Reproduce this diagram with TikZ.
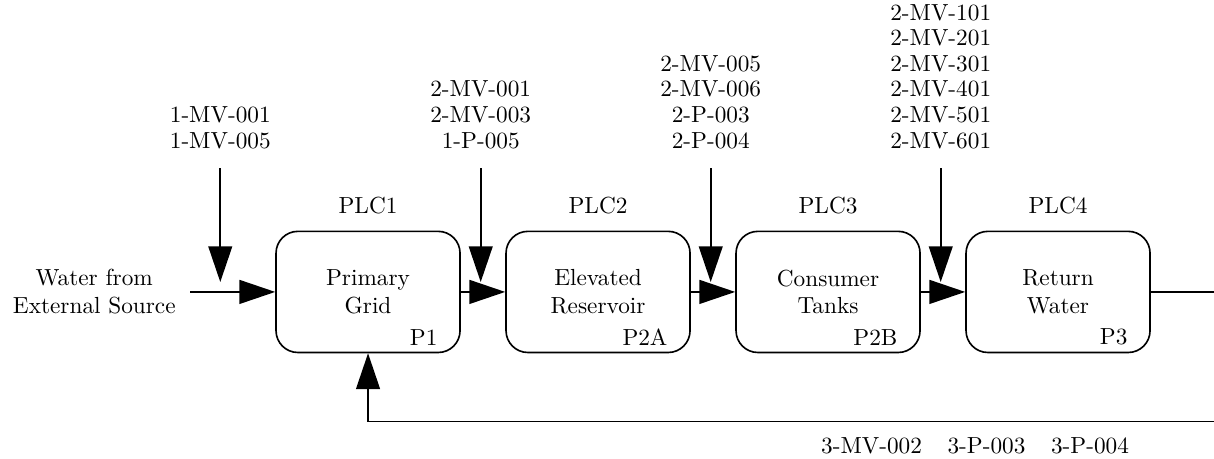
\documentclass[tikz,border=0pt]{standalone}
\usepackage{tikz}
\usetikzlibrary{arrows.meta}
\usetikzlibrary{positioning}

\begin{document}
\begin{tikzpicture}[
	stage/.style={draw, line width=0.7pt, rounded corners=0.33cm, minimum width=2.78cm, minimum height=1.83cm, align=center},
	tag/.style={align=center, font=\fontsize{10}{11}\selectfont},
	flow/.style={line width=0.7pt, -{Triangle[length=0.54cm, width=0.36cm]}}
]

	\useasboundingbox (-5.56,-2.51) rectangle (12.78,4.41);

	\node[stage] (p1) at (0,0) {Primary\\Grid};
	\node[stage, right=0.67cm of p1] (p2a) {Elevated\\Reservoir};
	\node[stage, right=0.67cm of p2a] (p2b) {Consumer\\Tanks};
	\node[stage, right=0.67cm of p2b] (p3) {Return\\Water};

	\node[above=0.13cm of p1] (plc1) {PLC1};
	\node[above=0.13cm of p2a] (plc2) {PLC2};
	\node[above=0.13cm of p2b] (plc3) {PLC3};
	\node[above=0.13cm of p3] (plc4) {PLC4};

	\node[anchor=south east] (n1) at ([xshift=-0.23cm]p1.south east) {P1};
	\node[anchor=south east] (n2a) at ([xshift=-0.23cm]p2a.south east) {P2A};
	\node[anchor=south east] (n2b) at ([xshift=-0.23cm]p2b.south east) {P2B};
	\node[anchor=south east] (n3) at ([xshift=-0.23cm]p3.south east) {P3};

	\node[align=center, left=1.38cm of p1] (src) {Water from\\External Source};

	\draw[flow] ([xshift=0.1cm]src.east) -- (p1.west);
	\draw[flow] (p1.east) -- (p2a.west);
	\draw[flow] (p2a.east) -- (p2b.west);
	\draw[flow] (p2b.east) -- (p3.west);

	\coordinate (j1) at ([xshift=-0.83cm, yshift=0.15cm]p1.west);
	\coordinate (j2) at ([xshift=0.3cm, yshift=0.15cm]p1.east);
	\coordinate (j3) at ([xshift=0.3cm, yshift=0.15cm]p2a.east);
	\coordinate (j4) at ([xshift=0.3cm, yshift=0.15cm]p2b.east);

	\node[tag, above=1.89cm of j1] (v1) {1-MV-001\\1-MV-005};
	\node[tag, above=1.89cm of j2] (v2) {2-MV-001\\2-MV-003\\1-P-005};
	\node[tag, above=1.89cm of j3] (v3) {2-MV-005\\2-MV-006\\2-P-003\\2-P-004};
	\node[tag, above=1.89cm of j4] (v4) {2-MV-101\\2-MV-201\\2-MV-301\\2-MV-401\\2-MV-501\\2-MV-601};

	\draw[flow] ([yshift=-0.17cm]v1.south) -- (j1);
	\draw[flow] ([yshift=-0.17cm]v2.south) -- (j2);
	\draw[flow] ([yshift=-0.17cm]v3.south) -- (j3);
	\draw[flow] ([yshift=-0.17cm]v4.south) -- (j4);

	\coordinate (fb) at ([xshift=1.0cm]p3.east);
	\coordinate (fbl) at ([yshift=-1.03cm]p1.south);
	\draw[flow] (p3.east) -- (fb) -- (fb |- fbl) -- (fbl) -- (p1.south);

	\node (v5) at ([xshift=9.17cm, yshift=-0.36cm]fbl) {3-MV-002\hspace{1.1em}3-P-003\hspace{1.1em}3-P-004};

\end{tikzpicture}
\end{document}
